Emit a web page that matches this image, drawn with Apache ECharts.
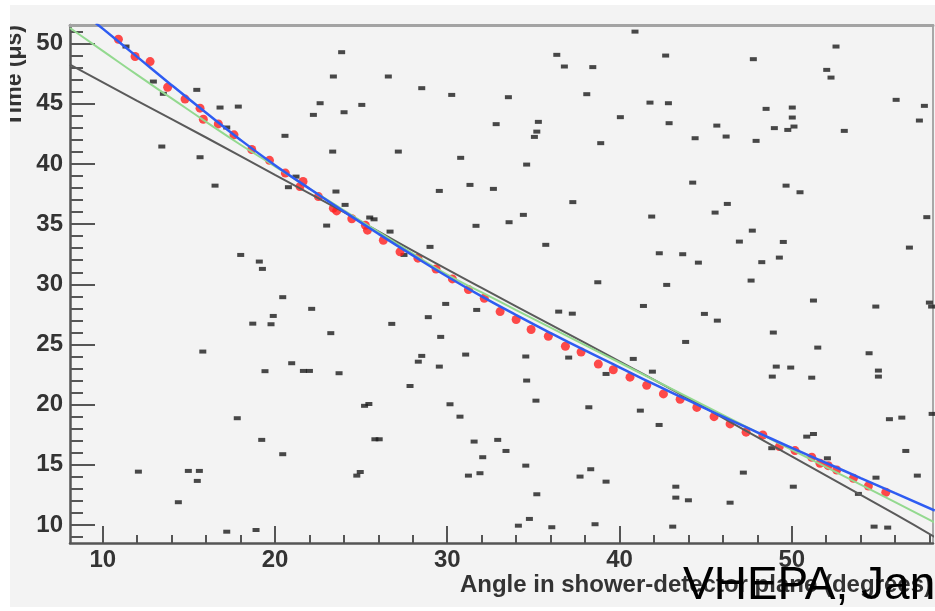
<!DOCTYPE html>
<html>
<head>
<meta charset="utf-8">
<script src="https://cdn.jsdelivr.net/npm/echarts@6/dist/echarts.min.js"></script>
<style>
html,body{margin:0;padding:0;background:#fff;}
#c{width:935px;height:611px;}
</style>
</head>
<body>
<div id="c"></div>
<script>
// ---- data ----
const noiseX = [11.35,12.94,13.52,15.46,13.43,15.65,16.81,17.2,17.87,16.52,20.58,20.78,21.22,22.23,22.62,
23.87,23.39,26.58,28.52,30.26,33.55,36.36,36.8,38.45,38.1,24.01,25.04,32.84,35.29,35.2,35.06,40.05,38.91,23.35,27.16,30.78,34.61,23.54,29.54,31.32,32.68,37.29,24.07,
40.9,42.68,47.77,52.57,52.03,52.28,41.77,42.84,42.88,44.39,45.65,46.19,47.93,48.51,48.99,50.03,50.03,50.13,49.77,53.05,56.06,57.7,57.41,44.25,49.67,50.48,46.26,
18.01,19.09,19.27,20.45,22.13,19.9,18.71,19.77,15.81,20.97,19.42,21.65,22.0,
25.5,25.75,23.0,26.68,31.67,33.59,34.42,35.72,29.0,27.49,38.74,29.91,31.71,36.47,37.26,28.9,23.24,26.78,29.62,31.07,34.56,37.05,39.22,28.52,28.32,29.54,23.72,27.84,34.61,35.15,25.2,25.45,30.16,38.22,
41.87,45.55,47.71,46.96,49.51,42.31,43.67,44.58,48.26,49.28,47.64,42.74,51.26,41.39,54.88,57.84,56.83,57.99,58.12,44.93,45.68,48.93,43.84,51.51,54.49,40.8,41.91,49.1,49.94,48.87,51.16,55.03,55.03,41.21,
12.07,14.39,14.97,15.61,15.49,17.2,18.9,17.81,19.23,20.45,
25.8,26.05,24.75,24.95,30.74,31.56,32.93,33.41,32.06,31.23,31.9,34.56,35.2,34.13,34.77,36.07,37.71,38.33,39.22,38.58,
42.3,43.27,43.27,44.0,43.09,47.19,46.42,48.84,50.87,51.26,52.07,50.09,53.87,54.89,54.78,55.57,55.67,56.39,56.62,57.29,58.15];
const noiseY = [49.76,46.85,45.83,46.16,41.45,40.56,44.69,43.03,44.77,38.2,42.34,38.07,38.95,44.08,45.05,
49.29,47.27,47.27,46.3,45.74,45.55,49.07,48.1,48.05,45.8,44.3,44.91,43.31,43.5,42.69,42.25,43.89,41.73,41.03,41.03,40.51,39.95,37.71,37.76,38.26,37.93,36.83,36.6,
51.0,49.01,48.71,49.76,47.82,47.18,45.1,45.05,43.39,42.14,43.19,42.28,41.92,44.58,42.98,44.69,43.86,43.11,42.83,42.75,45.33,44.83,43.61,38.45,38.2,37.65,36.68,
32.44,31.89,31.28,28.93,27.96,27.37,26.73,26.68,24.41,23.44,22.78,22.8,22.8,
35.55,35.4,34.88,34.38,34.86,35.16,35.77,33.28,33.11,32.44,30.17,28.37,27.87,27.73,27.56,27.27,25.94,26.71,25.63,24.16,24.0,23.91,22.55,24.05,23.57,23.16,22.61,21.55,22.0,20.33,19.9,20.05,20.03,19.78,
35.63,35.96,34.46,33.55,33.52,32.58,32.5,31.8,31.84,32.22,30.31,29.95,28.65,28.2,28.15,35.58,33.05,28.48,28.15,27.54,26.98,25.99,25.21,24.74,24.27,23.8,22.74,23.16,23.08,22.33,22.24,22.83,22.33,19.5,
14.43,11.89,14.49,14.49,13.66,9.44,9.58,18.87,17.07,15.88,
17.12,17.12,14.1,14.4,19.0,16.93,17.07,16.15,15.63,14.1,14.3,14.93,12.55,9.94,10.5,9.81,14.02,14.63,13.6,10.06,
18.31,13.18,12.27,12.05,9.86,14.35,11.85,16.38,17.34,17.56,15.54,13.18,12.58,13.93,9.86,9.78,18.79,18.92,16.15,14.1,19.23];

const hitX = [10.91,11.88,12.75,13.77,14.78,15.65,15.84,16.71,17.62,18.65,19.68,20.6,21.45,21.63,22.52,23.39,23.58,24.46,25.25,25.37,26.29,27.26,28.3,29.35,30.3,31.23,32.15,33.07,34.0,34.87,35.87,36.86,37.77,38.77,39.64,40.61,41.58,42.55,43.52,44.49,45.49,46.42,47.35,48.32,49.28,50.19,51.16,51.64,52.12,52.61,53.58,54.45,55.46];
const hitY = [50.37,48.93,48.51,46.38,45.39,44.64,43.72,43.33,42.42,41.2,40.3,39.24,38.12,38.54,37.29,36.33,36.1,35.45,34.9,34.5,33.66,32.7,32.17,31.27,30.45,29.56,28.84,27.73,27.07,26.24,25.68,24.85,24.37,23.37,22.9,22.28,21.6,20.89,20.45,19.77,19.0,18.4,17.71,17.48,16.51,16.18,15.63,15.13,14.93,14.57,13.88,13.24,12.72];

const blueX = [9.6,10,12,14,16,18,20,22,24,26,28,30,32,34,36,38,40,42,44,46,48,50,52,54,56,58.3];
const blueY = [51.7,51.25,48.9,46.55,44.25,42.0,39.9,37.95,36.05,34.2,32.4,30.65,29.0,27.45,25.95,24.5,23.1,21.7,20.35,19.0,17.7,16.4,15.15,13.9,12.65,11.2];
const greenX = [8.1,10,12,14,16,18,20,22,24,26,28,30,32,34,36,38,40,42,44,46,48,50,52,54,56,58.3];
const greenY = [51.3,49.4,47.4,45.45,43.5,41.6,39.8,37.95,36.15,34.35,32.55,30.8,29.33,27.86,26.4,24.95,23.5,22.05,20.6,19.15,17.7,16.25,14.8,13.35,11.9,10.2];
const blackX = [8.1,12,16,20,24,28,32,36,40,44,48,52,56,58.3];
const blackY = [48.25,45.25,42.2,39.1,36.0,32.8,29.7,26.65,23.6,20.5,17.3,14.1,10.9,9.0];

const xMajor = [10,20,30,40,50];
const xMinor = [12,14,16,18,22,24,26,28,32,34,36,38,42,44,46,48,52,54,56,58];
const yMajor = [10,15,20,25,30,35,40,45,50];
const yMinor = [9,11,12,13,14,16,17,18,19,21,22,23,24,26,27,28,29,31,32,33,34,36,37,38,39,41,42,43,44,46,47,48,49,51];

const xTitle = 'Angle in shower-detector plane (degrees)';
const yTitle = 'Time (μs)';
const overlayText = 'VHEPA, Jan';

// ---- chart ----
const zip = (a, b) => a.map((v, i) => [v, b[i]]);
const chart = echarts.init(document.getElementById('c'), null, {renderer: 'canvas'});
const axisCol = '#555';
const labelStyle = {fontSize: 24, fontWeight: 'bold', fontFamily: 'Liberation Sans', color: '#333'};

chart.setOption({
  animation: false,
  backgroundColor: '#f3f3f3',
  grid: {left: 70, top: 25, width: 863, height: 518, containLabel: false},
  xAxis: [
    {type: 'value', min: 8.1, max: 58.2, position: 'bottom',
     axisLine: {show: true, onZero: false, lineStyle: {color: axisCol, width: 2.5}},
     axisTick: {show: true, inside: true, length: 17, customValues: xMajor, lineStyle: {color: axisCol, width: 2}},
     axisLabel: Object.assign({show: true, margin: 5, customValues: xMajor}, labelStyle),
     splitLine: {show: false}},
    {type: 'value', min: 8.1, max: 58.2, position: 'bottom',
     axisLine: {show: false, onZero: false},
     axisTick: {show: true, inside: true, length: 8, customValues: xMinor, lineStyle: {color: axisCol, width: 2}},
     axisLabel: {show: false}, splitLine: {show: false}},
    {type: 'value', min: 8.1, max: 58.2, position: 'top',
     axisLine: {show: true, onZero: false, lineStyle: {color: '#a3a3a3', width: 3}},
     axisTick: {show: false}, axisLabel: {show: false}, splitLine: {show: false}}
  ],
  yAxis: [
    {type: 'value', min: 8.5, max: 51.55, position: 'left',
     axisLine: {show: true, onZero: false, lineStyle: {color: axisCol, width: 2.5}},
     axisTick: {show: true, inside: true, length: 25, customValues: yMajor, lineStyle: {color: axisCol, width: 2}},
     axisLabel: Object.assign({show: true, margin: 7, customValues: yMajor}, labelStyle),
     splitLine: {show: false}},
    {type: 'value', min: 8.5, max: 51.55, position: 'left',
     axisLine: {show: false, onZero: false},
     axisTick: {show: true, inside: true, length: 13, customValues: yMinor, lineStyle: {color: axisCol, width: 2}},
     axisLabel: {show: false}, splitLine: {show: false}},
    {type: 'value', min: 8.5, max: 51.55, position: 'right',
     axisLine: {show: true, onZero: false, lineStyle: {color: '#a8a8a8', width: 2}},
     axisTick: {show: false}, axisLabel: {show: false}, splitLine: {show: false}}
  ],
  series: [
    {type: 'scatter', name: 'noise', data: zip(noiseX, noiseY), symbol: 'rect', symbolSize: [7, 4],
     itemStyle: {color: '#1c1c1c'}, z: 2, silent: true},
    {type: 'scatter', name: 'hits', data: zip(hitX, hitY), symbol: 'circle', symbolSize: 9,
     itemStyle: {color: '#ff1e1e'}, z: 3, silent: true},
    {type: 'line', name: 'fit3', data: zip(blackX, blackY), smooth: true, showSymbol: false,
     lineStyle: {color: '#5a5a5a', width: 2}, z: 4, silent: true},
    {type: 'line', name: 'fit2', data: zip(greenX, greenY), smooth: true, showSymbol: false,
     lineStyle: {color: '#93d98f', width: 2}, z: 5, silent: true},
    {type: 'line', name: 'fit1', data: zip(blueX, blueY), smooth: true, showSymbol: false,
     lineStyle: {color: '#2e5cf2', width: 2.5}, z: 6, silent: true}
  ],
  graphic: {elements: [
    {type: 'text', z: 50, x: 932, y: 585,
     style: {text: xTitle, font: 'bold 24px "Liberation Sans"', fill: '#333',
             align: 'right', verticalAlign: 'middle', textAlign: 'right', textVerticalAlign: 'middle'}},
    {type: 'text', z: 50, x: 26, y: 25, rotation: Math.PI / 2,
     style: {text: yTitle, font: 'bold 23px "Liberation Sans"', fill: '#333',
             align: 'right', verticalAlign: 'bottom', textAlign: 'right', textVerticalAlign: 'bottom'}},
    {type: 'rect', z: 60, shape: {x: 0, y: 0, width: 10, height: 611}, style: {fill: '#ffffff'}},
    {type: 'rect', z: 60, shape: {x: 0, y: 0, width: 935, height: 5}, style: {fill: '#ffffff'}},
    {type: 'rect', z: 60, shape: {x: 0, y: 607, width: 935, height: 4}, style: {fill: '#ffffff'}},
    {type: 'text', z: 70, x: 683, y: 586,
     style: {text: overlayText, font: '46px "Liberation Sans"', fill: '#000',
             align: 'left', verticalAlign: 'middle', textAlign: 'left', textVerticalAlign: 'middle'}}
  ]}
});
</script>
</body>
</html>
